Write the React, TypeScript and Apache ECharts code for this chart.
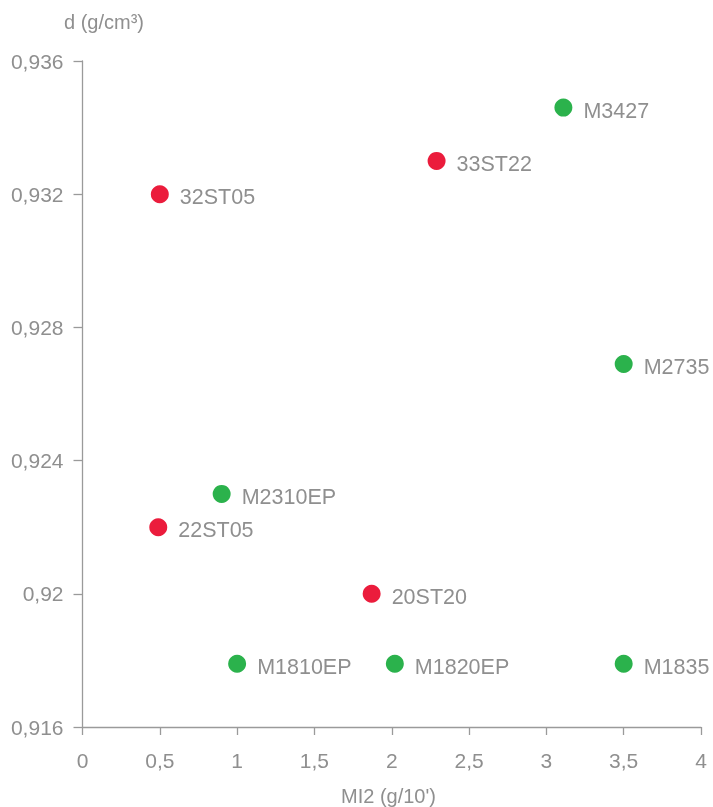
import React, { useEffect, useRef } from "react";
import * as echarts from "echarts";

const redNames = ["32ST05", "33ST22", "22ST05", "20ST20"];
const redX = [0.5, 2.29, 0.49, 1.87];
const redY = [0.932, 0.933, 0.922, 0.92];

const greenNames = ["M3427", "M2735", "M2310EP", "M1810EP", "M1820EP", "M1835"];
const greenX = [3.11, 3.5, 0.9, 1.0, 2.02, 3.5];
const greenY = [0.9346, 0.9269, 0.923, 0.9179, 0.9179, 0.9179];

const xTitle = "MI2 (g/10')";
const yTitle = "d (g/cm³)";

const FONT = "'Liberation Sans', Arial, sans-serif";
const GRAY = "#8f8f8f";

function fmt(v: number) {
  return String(Number(v.toFixed(4))).replace(".", ",");
}

export default function App() {
  const ref = useRef<HTMLDivElement>(null);
  useEffect(() => {
    if (!ref.current) return;
    const chart = echarts.init(ref.current, undefined, { renderer: "svg" });
    const mk = (names: string[], xs: number[], ys: number[]) =>
      names.map((n, i) => ({ name: n, value: [xs[i], ys[i]] }));
    const labelCfg = {
      show: true,
      position: "right" as const,
      distance: 11,
      offset: [0, 3],
      formatter: "{b}",
      color: GRAY,
      fontSize: 21.5,
      fontFamily: FONT,
    };
    chart.setOption({
      animation: false,
      grid: { left: 82.5, right: 12, top: 61, bottom: 80, containLabel: false },
      xAxis: {
        type: "value",
        min: 0,
        max: 4,
        interval: 0.5,
        splitLine: { show: false },
        axisLine: { show: true, lineStyle: { color: "#9a9a9a", width: 1.3 } },
        axisTick: { show: true, length: 8, lineStyle: { color: "#9a9a9a", width: 1.3 } },
        axisLabel: {
          margin: 23,
          color: GRAY,
          fontSize: 21,
          fontFamily: FONT,
          formatter: (v: number) => fmt(v),
        },
      },
      yAxis: {
        type: "value",
        min: 0.916,
        max: 0.936,
        interval: 0.004,
        splitLine: { show: false },
        axisLine: { show: true, lineStyle: { color: "#9a9a9a", width: 1.3 } },
        axisTick: { show: true, length: 9, lineStyle: { color: "#9a9a9a", width: 1.3 } },
        axisLabel: {
          margin: 19,
          color: GRAY,
          fontSize: 21,
          fontFamily: FONT,
          formatter: (v: number) => fmt(v),
        },
      },
      graphic: [
        {
          type: "text",
          left: 64,
          top: 12,
          style: { text: yTitle, fill: GRAY, fontSize: 20, fontFamily: FONT },
        },
        {
          type: "text",
          left: 341,
          top: 786,
          style: { text: xTitle, fill: GRAY, fontSize: 20, fontFamily: FONT },
        },
      ],
      series: [
        {
          type: "scatter",
          symbolSize: 18,
          itemStyle: { color: "#eb1c3c", opacity: 1 },
          label: labelCfg,
          data: mk(redNames, redX, redY),
        },
        {
          type: "scatter",
          symbolSize: 18,
          itemStyle: { color: "#2bb24c", opacity: 1 },
          label: labelCfg,
          data: mk(greenNames, greenX, greenY),
        },
      ],
    });
    return () => chart.dispose();
  }, []);
  return (
    <div
      ref={ref}
      style={{ position: "fixed", left: 0, top: 0, width: 713, height: 807 }}
    />
  );
}
